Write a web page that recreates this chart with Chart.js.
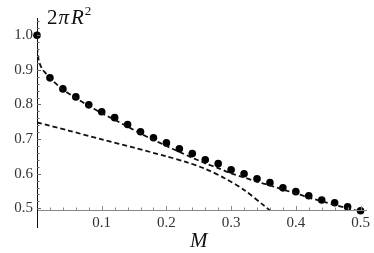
<!DOCTYPE html>
<html>
<head>
<meta charset="utf-8">
<script src="https://cdn.jsdelivr.net/npm/chart.js@4.4.1/dist/chart.umd.min.js"></script>
<style>
  html, body { margin: 0; padding: 0; background: #fff; }
  #wrap { width: 374px; height: 253px; position: relative; }
</style>
</head>
<body>
<div id="wrap"><canvas id="chart"></canvas></div>
<script>
// data points (M, 2 pi R^2)
const dotM = [0, 0.02, 0.04, 0.06, 0.08, 0.10, 0.12, 0.14, 0.16, 0.18, 0.20, 0.22, 0.24,
              0.26, 0.28, 0.30, 0.32, 0.34, 0.36, 0.38, 0.40, 0.42, 0.44, 0.46, 0.48, 0.50];
const dotR = [1.0, 0.877, 0.845, 0.822, 0.799, 0.779, 0.762, 0.742, 0.721, 0.704, 0.689, 0.672, 0.658,
              0.640, 0.629, 0.611, 0.600, 0.585, 0.574, 0.559, 0.548, 0.536, 0.524, 0.516, 0.504, 0.493];

// upper dashed curve
const upperM = [0, 0.003, 0.008, 0.014, 0.02, 0.04, 0.06, 0.08, 0.10, 0.12, 0.14, 0.16, 0.18, 0.20,
                0.22, 0.24, 0.26, 0.28, 0.30, 0.32, 0.34, 0.36, 0.38, 0.40, 0.42, 0.44, 0.46, 0.48, 0.50];
const upperR = [0.965, 0.925, 0.903, 0.889, 0.876, 0.843, 0.819, 0.796, 0.775, 0.756, 0.736, 0.716, 0.698, 0.680,
                0.663, 0.646, 0.630, 0.616, 0.601, 0.589, 0.577, 0.566, 0.554, 0.543, 0.531, 0.520, 0.510, 0.500, 0.490];

// lower dashed curve
const lowerM = [0, 0.05, 0.10, 0.15, 0.20, 0.23, 0.26, 0.29, 0.32, 0.35, 0.37];
const lowerR = [0.748, 0.724, 0.699, 0.675, 0.650, 0.634, 0.614, 0.587, 0.553, 0.509, 0.478];

const xTicks = [0.1, 0.2, 0.3, 0.4, 0.5];
const yTicks = [0.5, 0.6, 0.7, 0.8, 0.9, 1.0];

const pts = (xs, ys) => xs.map((x, i) => ({ x: x, y: ys[i] }));
const serif = "'Liberation Serif', 'DejaVu Serif', serif";

// Mathematica style axes: inward ticks, y axis running past the x axis, axis labels
const axesPlugin = {
  id: "axesPlugin",
  afterDatasetsDraw(chart) {
    const ctx = chart.ctx;
    const xs = chart.scales.x, ys = chart.scales.y;
    const ca = chart.chartArea;
    const x0 = xs.getPixelForValue(0);
    const yb = ca.bottom;
    ctx.save();
    // x axis
    ctx.strokeStyle = "#888";
    ctx.lineWidth = 1;
    ctx.beginPath();
    ctx.moveTo(x0, yb + 0.5);
    ctx.lineTo(ca.right, yb + 0.5);
    ctx.stroke();
    for (let i = 1; i <= 25; i++) {
      const v = i * 0.02;
      const px = Math.round(xs.getPixelForValue(v)) + 0.5;
      const len = i % 5 === 0 ? 4 : 2.5;
      ctx.beginPath();
      ctx.moveTo(px, yb);
      ctx.lineTo(px, yb - len);
      ctx.stroke();
    }
    // y axis
    ctx.strokeStyle = "#111";
    ctx.beginPath();
    ctx.moveTo(x0 + 0.5, ca.top);
    ctx.lineTo(x0 + 0.5, yb + 18);
    ctx.stroke();
    ctx.strokeStyle = "#666";
    for (let i = 25; i <= 52; i++) {
      const v = i * 0.02;
      const py = Math.round(ys.getPixelForValue(v)) + 0.5;
      if (py < ca.top || py > yb) continue;
      const len = i % 5 === 0 ? 4 : 2.5;
      ctx.beginPath();
      ctx.moveTo(x0, py);
      ctx.lineTo(x0 + len, py);
      ctx.stroke();
    }
    // axis labels
    ctx.fillStyle = "#111";
    ctx.textBaseline = "alphabetic";
    ctx.font = "21px " + serif;
    let tx = x0 + 10;
    const ty = ca.top + 6;
    ctx.fillText("2", tx, ty);
    tx += ctx.measureText("2").width + 1;
    ctx.font = "italic 21px " + serif;
    ctx.fillText("\u03c0", tx, ty);
    tx += ctx.measureText("\u03c0").width + 2;
    ctx.fillText("R", tx, ty);
    tx += ctx.measureText("R").width + 1;
    ctx.font = "13px " + serif;
    ctx.fillText("2", tx, ty - 9);
    ctx.font = "italic 21px " + serif;
    ctx.textAlign = "center";
    ctx.fillText("M", xs.getPixelForValue(0.25), yb + 37);
    ctx.restore();
  }
};

new Chart(document.getElementById("chart"), {
  type: "scatter",
  data: {
    datasets: [
      {
        data: pts(upperM, upperR),
        showLine: true,
        borderColor: "#111",
        borderWidth: 1.8,
        borderDash: [5, 3],
        pointRadius: 0,
        tension: 0.3
      },
      {
        data: pts(lowerM, lowerR),
        showLine: true,
        borderColor: "#111",
        borderWidth: 1.8,
        borderDash: [5, 3],
        pointRadius: 0,
        tension: 0.3
      },
      {
        data: pts(dotM, dotR),
        showLine: false,
        pointRadius: 3.8,
        pointBackgroundColor: "#000",
        pointBorderWidth: 0,
        clip: false
      }
    ]
  },
  options: {
    responsive: true,
    maintainAspectRatio: false,
    animation: false,
    layout: { padding: { top: 18, right: 2, left: 0, bottom: 0 } },
    plugins: { legend: { display: false }, tooltip: { enabled: false } },
    scales: {
      x: {
        type: "linear",
        min: 0,
        max: 0.51,
        grid: { display: false, drawTicks: false },
        border: { display: false },
        afterBuildTicks: (s) => { s.ticks = xTicks.map(v => ({ value: v })); },
        afterFit: (s) => { s.height = 43; },
        ticks: {
          padding: 4,
          color: "#333",
          font: { family: serif, size: 15 },
          maxRotation: 0,
          callback: (v) => Number(v).toFixed(1)
        }
      },
      y: {
        type: "linear",
        min: 0.495,
        max: 1.05,
        grid: { display: false, drawTicks: false },
        border: { display: false },
        afterBuildTicks: (s) => { s.ticks = yTicks.map(v => ({ value: v })); },
        afterFit: (s) => { s.width = 37; },
        ticks: {
          padding: 4,
          color: "#333",
          font: { family: serif, size: 15 },
          callback: (v) => Number(v).toFixed(1)
        }
      }
    }
  },
  plugins: [axesPlugin]
});
</script>
</body>
</html>
